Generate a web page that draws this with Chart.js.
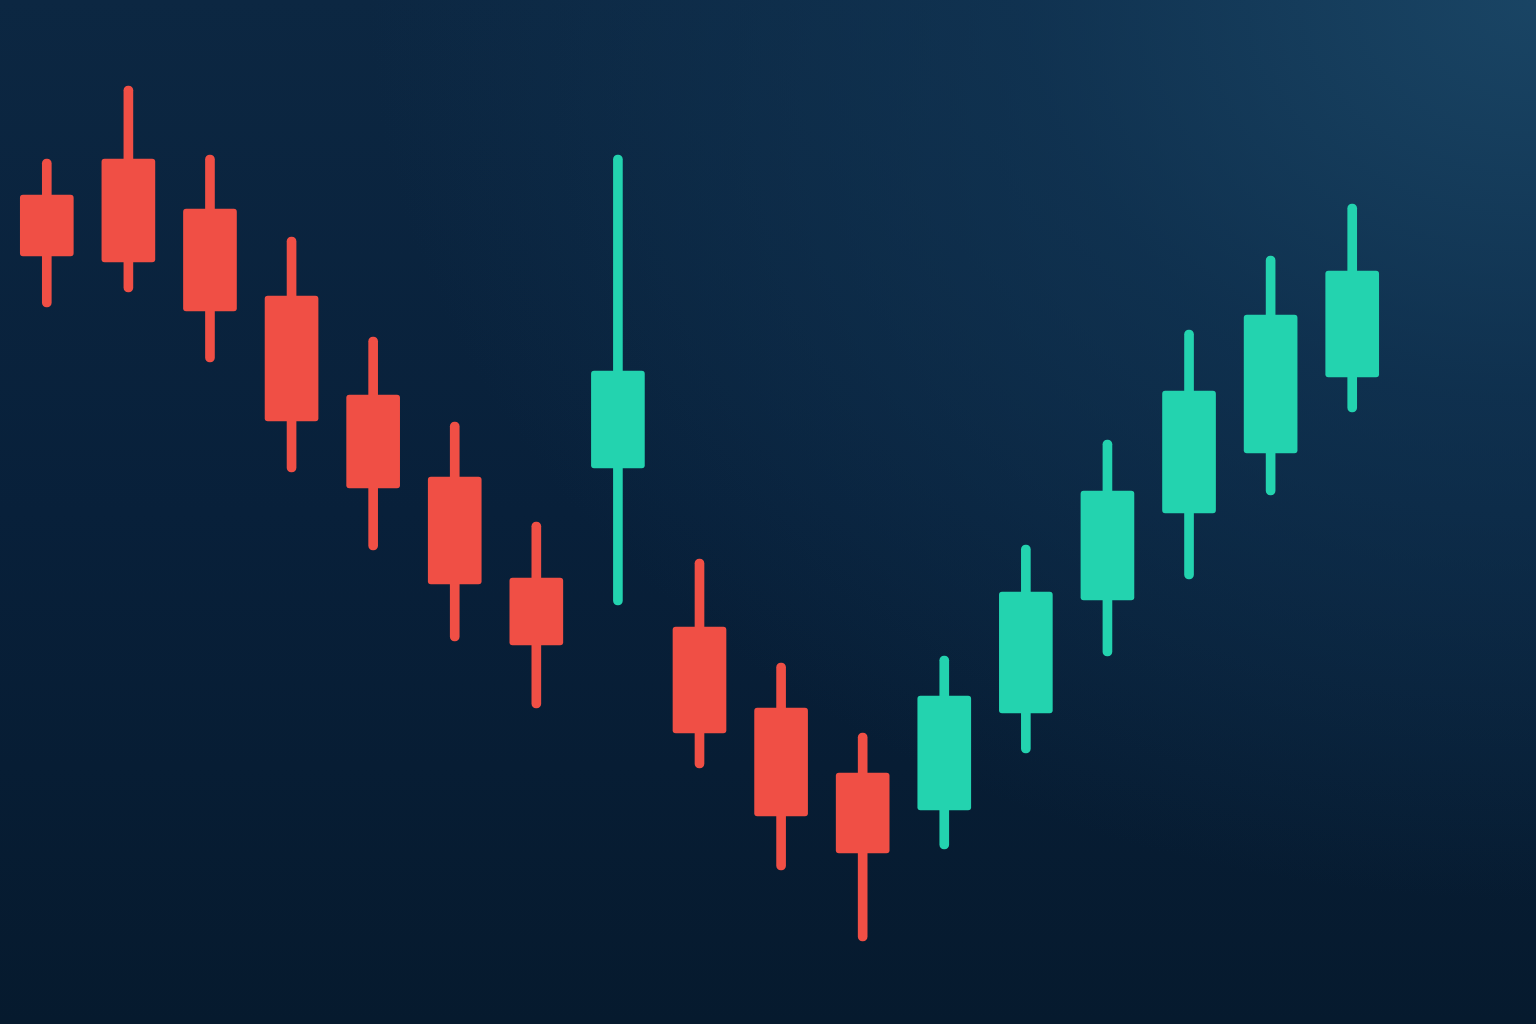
<!DOCTYPE html>
<html>
<head>
<meta charset="utf-8">
<script src="https://cdn.jsdelivr.net/npm/chart.js@4"></script>
<style>
  html,body{margin:0;padding:0;width:1536px;height:1024px;overflow:hidden;}
  body{
    background:
      radial-gradient(ellipse 95% 110% at 100% 0%, rgba(26,70,102,0.95) 0%, rgba(18,56,88,0.65) 35%, rgba(10,36,60,0) 80%),
      linear-gradient(180deg, #0c2742 0%, #08203a 50%, #061a2e 100%);
  }
  canvas{display:block;}
</style>
</head>
<body>
<canvas id="c" width="1536" height="1024"></canvas>
<script>
// ── candle data (price units) ──
const SESSIONS = ['1','2','3','4','5','6','7','8','9','10','11','12','13','14','15','16','17'];
const OPEN  = [82.9, 86.5, 81.5, 72.8, 62.9, 54.7, 44.6, 55.6, 39.7, 31.6, 25.1, 21.4, 31.1, 42.4, 51.1, 57.1, 64.7];
const CLOSE = [76.8, 76.2, 71.3, 60.3, 53.6, 44.0, 37.9, 65.3, 29.1, 20.8, 17.1, 32.8, 43.2, 53.3, 63.3, 70.9, 75.3];
const HIGH  = [86.5, 93.8, 86.9, 78.7, 68.7, 60.2, 50.2, 86.9, 46.5, 36.1, 29.1, 36.8, 47.9, 58.4, 69.4, 76.8, 82.0];
const LOW   = [71.7, 73.2, 66.2, 55.2, 47.4, 38.3, 31.6, 41.9, 25.6, 15.4,  8.3, 17.5, 27.1, 36.8, 44.5, 52.9, 61.2];

const UP = '#23d3af', DOWN = '#f04f45';
const col = OPEN.map((o,i)=> CLOSE[i] >= o ? UP : DOWN);

new Chart(document.getElementById('c'), {
  type: 'bar',
  data: {
    labels: SESSIONS,
    datasets: [
      { // bodies
        data: OPEN.map((o,i)=>[o, CLOSE[i]]),
        backgroundColor: col,
        barThickness: 53,
        borderRadius: 3,
        borderSkipped: false,
        grouped: false
      },
      { // wicks
        data: LOW.map((l,i)=>[l, HIGH[i]]),
        backgroundColor: col,
        barThickness: 9,
        borderRadius: 5,
        borderSkipped: false,
        grouped: false
      }
    ]
  },
  options: {
    responsive: false,
    animation: false,
    layout: { padding: { left: 6, right: 143, top: 0, bottom: 0 } },
    plugins: { legend: { display: false }, tooltip: { enabled: false } },
    scales: {
      x: { display: false, offset: true },
      y: { display: false, min: 0, max: 102.4 }
    }
  }
});
</script>
</body>
</html>
